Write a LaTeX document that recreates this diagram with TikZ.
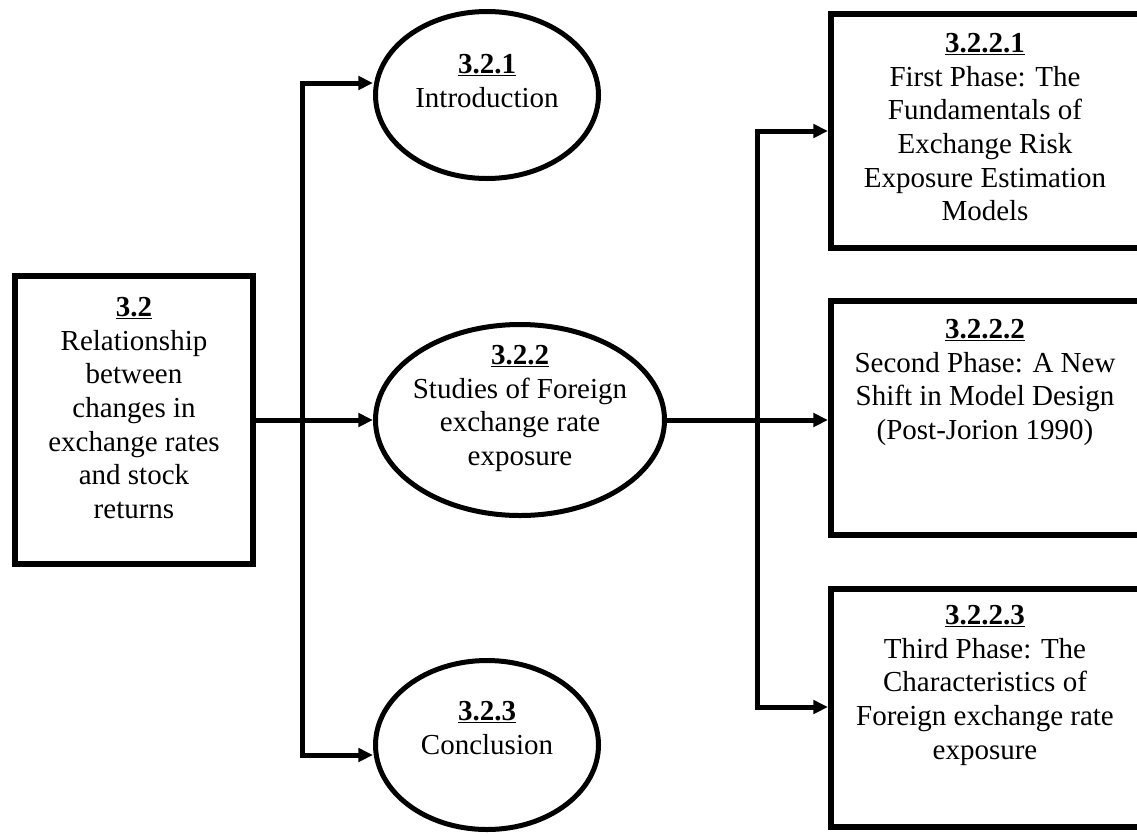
\documentclass[tikz,border=0pt]{standalone}
\usepackage{fontspec}
\setmainfont{Liberation Serif}
\usetikzlibrary{arrows.meta,shapes.geometric}
\tikzset{
  conn/.style={line width=3.75pt, line join=miter},
  tipend/.style={-{Triangle[length=11pt,width=10pt]}},
  tipboth/.style={{Triangle[length=11pt,width=10pt]}-{Triangle[length=11pt,width=10pt]}},
  framebox/.style={draw, line width=4.5pt, rectangle, inner sep=0pt},
  oval/.style={draw, line width=3.75pt, ellipse, inner sep=0pt},
  label/.style={align=center, inner sep=0pt, anchor=north,
    font=\fontsize{21.75pt}{25.25pt}\selectfont},
}
\newcommand{\hd}[1]{\underline{\textbf{#1}}}
\begin{document}
\begin{tikzpicture}[x=0.75pt,y=-0.75pt]
\useasboundingbox (0,0) rectangle (1137,836);
\clip (0,0) rectangle (1137,836);
\fill[white] (0,0) rectangle (1137,836);

% left box
\node[framebox, minimum width=238*0.75pt, minimum height=288*0.75pt] (b32) at (134,420) {};
\node[label] (t32) at (134,297) {\hd{3.2}\\Relationship\\between\\changes in\\exchange rates\\and stock\\returns};

% ellipses
\node[oval, minimum width=223*0.75pt, minimum height=167*0.75pt] (e1) at (487,95) {};
\node[label] (te1) at (487,54) {\hd{3.2.1}\\Introduction};
\node[oval, minimum width=289*0.75pt, minimum height=191*0.75pt] (e2) at (520,420) {};
\node[label] (te2) at (520,345) {\hd{3.2.2}\\Studies of Foreign\\exchange rate\\exposure};
\node[oval, minimum width=223*0.75pt, minimum height=169*0.75pt] (e3) at (487,745) {};
\node[label] (te3) at (487,701) {\hd{3.2.3}\\Conclusion};

% right boxes (they run past the right edge)
\node[framebox, minimum width=334*0.75pt, minimum height=234*0.75pt] (b1) at (998,130.5) {};
\node[label] (tb1) at (985,33) {\hd{3.2.2.1}\\First Phase: The\\Fundamentals of\\Exchange Risk\\Exposure Estimation\\Models};
\node[framebox, minimum width=334*0.75pt, minimum height=234*0.75pt] (b2) at (998,417.5) {};
\node[label] (tb2) at (985,319) {\hd{3.2.2.2}\\Second Phase: A New\\Shift in Model Design\\(Post-Jorion 1990)};
\node[framebox, minimum width=334*0.75pt, minimum height=238*0.75pt] (b3) at (998,707.5) {};
\node[label] (tb3) at (985,605) {\hd{3.2.2.3}\\Third Phase: The\\Characteristics of\\Foreign exchange rate\\exposure};

% connectors
\coordinate (lt) at (302,83);
\coordinate (lb) at (302,755);
\coordinate (rt) at (757,131);
\coordinate (rb) at (757,707);
\draw[conn, tipboth] (lt -| e1.west) -- (lt) -- (lb) -- (lb -| e3.west);
\draw[conn, tipend] (b32.east) -- (e2.west);
\draw[conn, tipboth] (rt -| b1.west) -- (rt) -- (rb) -- (rb -| b3.west);
\draw[conn, tipend] (e2.east) -- (e2.east -| b2.west);
\end{tikzpicture}
\end{document}
